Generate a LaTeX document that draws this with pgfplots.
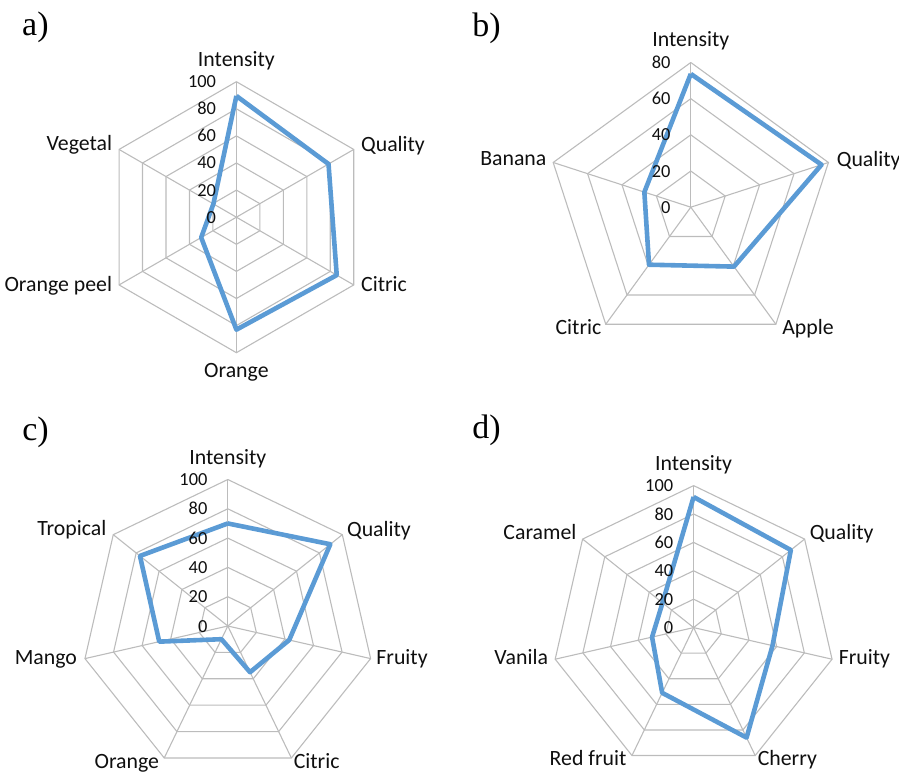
\documentclass[border=0pt]{standalone}
\usepackage{fontspec}
\setmainfont{Carlito}
\newfontfamily\panelfont{Liberation Serif}
\usepackage{pgfplots}
\pgfplotsset{compat=1.18}
\usepgfplotslibrary{polar}
\definecolor{webgray}{RGB}{188,188,188}
\definecolor{lineblue}{RGB}{91,155,213}
\definecolor{txt}{RGB}{15,15,15}
\pgfplotsset{
  radar/.style={hide axis, clip=false, scale only axis, width=#1, height=#1,
    xmin=0, xmax=360, ymin=0, anchor=center},
  web/.style={webgray, line width=0.55pt, no markers, forget plot},
  profile/.style={lineblue, line width=2.3pt, no markers, line join=round},
}
\tikzset{
  cat/.style={font=\fontsize{10.9}{12}\selectfont, text=txt, inner sep=0pt, text height=7.5pt, text depth=2.5pt},
  num/.style={font=\fontsize{9.2}{10}\selectfont, text=txt, inner sep=0pt, text height=6pt, text depth=0pt, anchor=east, xshift=-10pt},
  letter/.style={font=\panelfont\fontsize{17}{18}\selectfont, inner sep=0pt, anchor=base west},
}
\begin{document}
\begin{tikzpicture}
\path[use as bounding box] (0,0) rectangle (449.5pt,386pt);

% a) six axes, 0-100
\begin{polaraxis}[radar=135.5pt, at={(118.2pt,277.4pt)}, ymax=100]
\pgfplotsinvokeforeach{20,40,60,80,100}{
  \addplot[web] coordinates {(90,#1)(30,#1)(-30,#1)(-90,#1)(-150,#1)(150,#1)(90,#1)};}
\pgfplotsinvokeforeach{90,30,-30,-90,-150,150}{
  \addplot[web] coordinates {(#1,0)(#1,100)};}
\addplot[profile] coordinates {(90,89.5)(30,78.5)(-30,85.5)(-90,83)(-150,30)(150,19.6)(90,89.5)};
\pgfplotsinvokeforeach{0,20,40,60,80,100}{\node[num] at (axis cs:90,#1) {#1};}
\node[cat] at (axis cs:90,100) [yshift=10pt] {Intensity};
\node[cat, anchor=west, xshift=3.5pt, yshift=1.5pt] at (axis cs:30,100) {Quality};
\node[cat, anchor=west, xshift=3.5pt, yshift=-0.8pt] at (axis cs:-30,100) {Citric};
\node[cat] at (axis cs:-90,100) [yshift=-10pt] {Orange};
\node[cat, anchor=east, xshift=-3.3pt, yshift=-1pt] at (axis cs:-150,100) {Orange peel};
\node[cat, anchor=east, xshift=-3.3pt, yshift=2pt] at (axis cs:150,100) {Vegetal};
\end{polaraxis}

% b) five axes, 0-80
\begin{polaraxis}[radar=144.7pt, at={(345.4pt,282.4pt)}, ymax=80]
\pgfplotsinvokeforeach{20,40,60,80}{
  \addplot[web] coordinates {(90,#1)(18,#1)(-54,#1)(-126,#1)(162,#1)(90,#1)};}
\pgfplotsinvokeforeach{90,18,-54,-126,162}{
  \addplot[web] coordinates {(#1,0)(#1,80)};}
\addplot[profile] coordinates {(90,73.7)(18,76)(-54,40.6)(-126,39.3)(162,27)(90,73.7)};
\pgfplotsinvokeforeach{0,20,40,60,80}{\node[num] at (axis cs:90,#1) {#1};}
\node[cat] at (axis cs:90,80) [yshift=10.5pt] {Intensity};
\node[cat, anchor=west, xshift=4pt, yshift=0.5pt] at (axis cs:18,80) {Quality};
\node[cat, anchor=west, xshift=3pt, yshift=-2.8pt] at (axis cs:-54,80) {Apple};
\node[cat, anchor=east, xshift=-2pt, yshift=-2.8pt] at (axis cs:-126,80) {Citric};
\node[cat, anchor=east, xshift=-3.2pt, yshift=0.8pt] at (axis cs:162,80) {Banana};
\end{polaraxis}

% c) seven axes, 0-100
\begin{polaraxis}[radar=146.5pt, at={(113.9pt,73pt)}, ymax=100]
\pgfplotsinvokeforeach{20,40,60,80,100}{
  \addplot[web] coordinates {(90,#1)(38.571,#1)(-12.857,#1)(-64.286,#1)(-115.714,#1)(-167.143,#1)(141.429,#1)(90,#1)};}
\pgfplotsinvokeforeach{90,38.571,-12.857,-64.286,-115.714,-167.143,141.429}{
  \addplot[web] coordinates {(#1,0)(#1,100)};}
\addplot[profile] coordinates {(90,70)(38.571,89.5)(-12.857,43)(-64.286,35)(-115.714,10)(-167.143,48)(141.429,76.7)(90,70)};
\pgfplotsinvokeforeach{0,20,40,60,80,100}{\node[num] at (axis cs:90,#1) {#1};}
\node[cat] at (axis cs:90,100) [yshift=10pt] {Intensity};
\node[cat, anchor=west, xshift=2.2pt, yshift=1.5pt] at (axis cs:38.571,100) {Quality};
\node[cat, anchor=west, xshift=2.7pt, yshift=-0.3pt] at (axis cs:-12.857,100) {Fruity};
\node[cat, anchor=west, xshift=1pt, yshift=-2.9pt] at (axis cs:-64.286,100) {Citric};
\node[cat, anchor=east, xshift=-2.4pt, yshift=-2.9pt] at (axis cs:-115.714,100) {Orange};
\node[cat, anchor=east, xshift=-3.8pt, yshift=-0.3pt] at (axis cs:-167.143,100) {Mango};
\node[cat, anchor=east, xshift=-3.3pt, yshift=2.3pt] at (axis cs:141.429,100) {Tropical};
\end{polaraxis}

% d) seven axes, 0-100
\begin{polaraxis}[radar=142pt, at={(346.8pt,72.2pt)}, ymax=100]
\pgfplotsinvokeforeach{20,40,60,80,100}{
  \addplot[web] coordinates {(90,#1)(38.571,#1)(-12.857,#1)(-64.286,#1)(-115.714,#1)(-167.143,#1)(141.429,#1)(90,#1)};}
\pgfplotsinvokeforeach{90,38.571,-12.857,-64.286,-115.714,-167.143,141.429}{
  \addplot[web] coordinates {(#1,0)(#1,100)};}
\addplot[profile] coordinates {(90,92)(38.571,87.6)(-12.857,57)(-64.286,86)(-115.714,51)(-167.143,30)(141.429,28)(90,92)};
\pgfplotsinvokeforeach{0,20,40,60,80,100}{\node[num] at (axis cs:90,#1) {#1};}
\node[cat] at (axis cs:90,100) [yshift=10.3pt] {Intensity};
\node[cat, anchor=west, xshift=2.4pt, yshift=2.1pt] at (axis cs:38.571,100) {Quality};
\node[cat, anchor=west, xshift=3.2pt, yshift=-0.3pt] at (axis cs:-12.857,100) {Fruity};
\node[cat, anchor=west, xshift=1.1pt, yshift=-2.4pt] at (axis cs:-64.286,100) {Cherry};
\node[cat, anchor=east, xshift=-2.6pt, yshift=-2.4pt] at (axis cs:-115.714,100) {Red fruit};
\node[cat, anchor=east, xshift=-3.4pt, yshift=-0.3pt] at (axis cs:-167.143,100) {Vanila};
\node[cat, anchor=east, xshift=-2.9pt, yshift=2.1pt] at (axis cs:141.429,100) {Caramel};
\end{polaraxis}

\node[letter] at (10.9pt,368pt) {a)};
\node[letter] at (236pt,367.7pt) {b)};
\node[letter] at (11pt,166pt) {c)};
\node[letter] at (236pt,166.9pt) {d)};
\end{tikzpicture}
\end{document}
